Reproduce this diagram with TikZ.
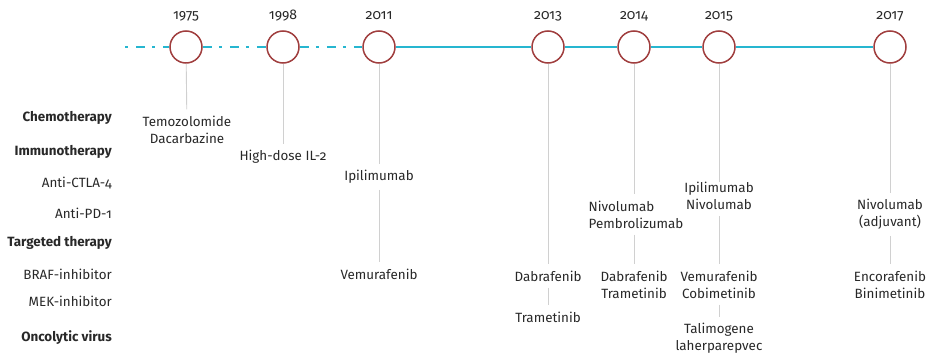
\documentclass[tikz,border=0pt]{standalone}
\usepackage{fontspec}
\setmainfont{Fira Sans}[Numbers=OldStyle]
\definecolor{tcyan}{RGB}{38,182,208}
\definecolor{cred}{RGB}{160,62,62}
\definecolor{txt}{RGB}{40,40,40}
\definecolor{lgray}{RGB}{208,208,208}
\begin{document}
\begin{tikzpicture}[x=1pt,y=-1pt,
  yr/.style={font=\fontsize{14}{16}\selectfont, text=txt, inner sep=0},
  ev/.style={circle, draw=cred, line width=1.5pt, fill=white, minimum size=32pt, inner sep=0},
  lab/.style={font=\fontsize{13.4}{17}\selectfont, align=center, text=txt, inner xsep=2pt, inner ysep=6pt},
  cat/.style={anchor=east, font=\fontsize{13.4}{15}\selectfont, text=txt, inner sep=0},
  bcat/.style={cat, font=\fontsize{13.4}{15}\selectfont\bfseries},
  conn/.style={draw=lgray, line width=0.9pt},
  tline/.style={draw=tcyan, line width=2.2pt},
  tdash/.style={tline, dash pattern=on 9pt off 7pt on 3pt off 8pt}]
\useasboundingbox (0,0) rectangle (931,353);

% category labels
\node[bcat] (chemo) at (112,118) {Chemotherapy};
\node[bcat] (immuno) at (112,152) {Immunotherapy};
\node[cat] (ctla) at (112,183) {Anti-CTLA-4};
\node[cat] (pd1) at (112,213) {Anti-PD-1};
\node[bcat] (target) at (112,243) {Targeted therapy};
\node[cat] (braf) at (112,274) {BRAF-inhibitor};
\node[cat] (mek) at (112,301) {MEK-inhibitor};
\node[bcat] (onco) at (112,338) {Oncolytic virus};

% timeline
\coordinate (start) at (125,47);
\node[ev] (c1) at (186,47) {};
\node[ev] (c2) at (283,47) {};
\node[ev] (c3) at (379,47) {};
\node[ev] (c4) at (548,47) {};
\node[ev] (c5) at (634,47) {};
\node[ev] (c6) at (719,47) {};
\node[ev] (c7) at (890,47) {};
\draw[tdash, dash phase=16pt] (start) -- (c1);
\draw[tdash] (c1) -- (c2);
\draw[tdash] (c2) -- (c3);
\draw[tline] (c3) -- (c4);
\draw[tline] (c4) -- (c5);
\draw[tline] (c5) -- (c6);
\draw[tline] (c6) -- (c7);

% years
\node[yr] (y1) at (186,16) {1975};
\node[yr] (y2) at (283,16) {1998};
\node[yr] (y3) at (379,16) {2011};
\node[yr] (y4) at (548,16) {2013};
\node[yr] (y5) at (634,16) {2014};
\node[yr] (y6) at (719,16) {2015};
\node[yr] (y7) at (890,16) {2017};

% 1975
\node[lab] (a1) at (187,129.5) {Temozolomide\\Dacarbazine};
\draw[conn] (c1) -- (a1);
% 1998
\node[lab] (b1) at (283,157) {High-dose IL-2};
\draw[conn] (c2) -- (b1);
% 2011
\node[lab] (d1) at (379,177) {Ipilimumab};
\node[lab] (d2) at (379,274) {Vemurafenib};
\draw[conn] (c3) -- (d1);
\draw[conn] (d1) -- (d2);
% 2013
\node[lab] (e1) at (548,276) {Dabrafenib};
\node[lab] (e2) at (548,317) {Trametinib};
\draw[conn] (c4) -- (e1);
\draw[conn] (e1) -- (e2);
% 2014
\node[lab, align=left] (f1) at (636,214.5) {Nivolumab\\Pembrolizumab};
\node[lab] (f2) at (634,284.5) {Dabrafenib\\Trametinib};
\draw[conn] (c5) -- (c5 |- f1.north);
\draw[conn] (c5 |- f1.south) -- (f2);
% 2015
\node[lab] (g1) at (719,196) {Ipilimumab\\Nivolumab};
\node[lab] (g2) at (719,284.5) {Vemurafenib\\Cobimetinib};
\node[lab] (g3) at (719,338) {Talimogene\\laherparepvec};
\draw[conn] (c6) -- ([yshift=-6pt]g1.north);
\draw[conn] (g1) -- (g2);
\draw[conn] (g2) -- (g3);
% 2017
\node[lab] (h1) at (890,214.5) {Nivolumab\\(adjuvant)};
\node[lab] (h2) at (890,284.5) {Encorafenib\\Binimetinib};
\draw[conn] (c7) -- (h1);
\draw[conn] (h1) -- (h2);
\end{tikzpicture}
\end{document}
